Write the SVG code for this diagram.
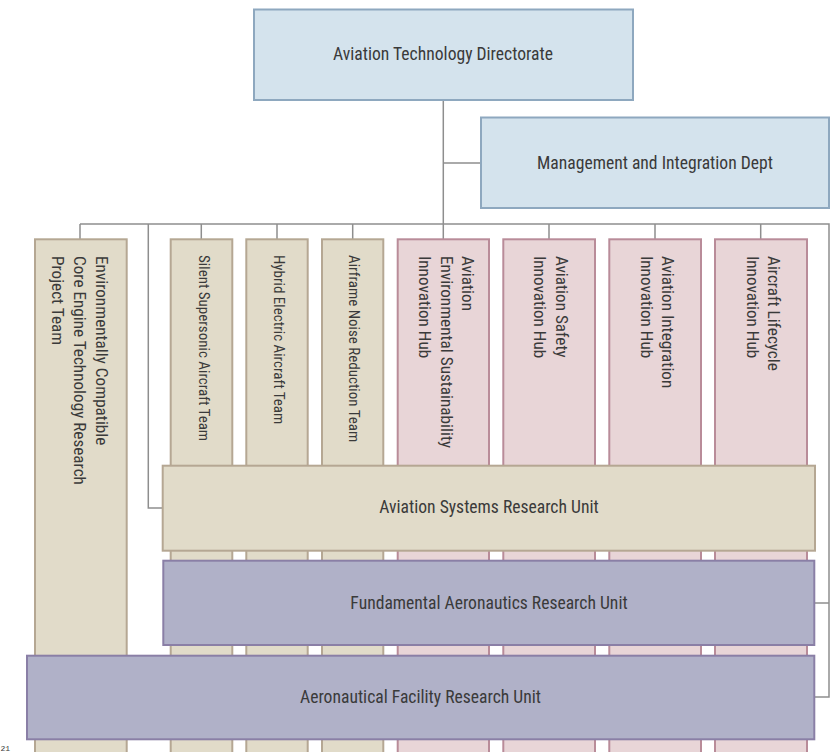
<svg xmlns="http://www.w3.org/2000/svg" width="839" height="752" viewBox="0 0 839 752">
<style>
text{font-family:"Liberation Sans Narrow","Roboto Condensed","Arial Narrow","Liberation Sans",sans-serif;fill:#3a3a3a;font-stretch:condensed}
.blue{fill:#d4e3ed;stroke:#8ea8bf;stroke-width:2}
.tan{fill:#e1dbc9;stroke:#b5a793;stroke-width:2}
.pink{fill:#e8d5d7;stroke:#b98c99;stroke-width:2}
.purple{fill:#b0b1c8;stroke:#8a7fa6;stroke-width:2}
.conn{fill:none;stroke:#8e8e8e;stroke-width:1.5}
.h{font-size:17.6px;text-anchor:middle}
.v{font-size:17.2px}
.vs{font-size:15px}
</style>
<rect width="839" height="752" fill="#ffffff"/>
<g id="connectors" class="conn">
<path d="M443.3 100V239"/>
<path d="M443.3 163H481"/>
<path d="M80 224H829V697H814"/>
<path d="M829 603H814"/>
<path d="M80 224V239M201.3 224V239M277 224V239M352.7 224V239M549 224V239M655 224V239M760.7 224V239"/>
<path d="M148.3 224V508H163"/>
</g>
<g id="n-atd">
<rect class="blue" x="254" y="9.5" width="379" height="90.5"/>
<text class="h" x="443" y="60">Aviation Technology Directorate</text>
</g>
<g id="n-mid">
<rect class="blue" x="481" y="117.5" width="348" height="90.5"/>
<text class="h" x="655" y="168.5">Management and Integration Dept</text>
</g>
<g id="n-eccet">
<rect class="tan" x="35" y="239.3" width="91.7" height="540"/>
<text class="v" x="95.5" y="256" transform="rotate(90 95.5 256)"><tspan x="95.5">Environmentally Compatible</tspan><tspan x="95.5" dy="21.6">Core Engine Technology Research</tspan><tspan x="95.5" dy="21.6">Project Team</tspan></text>
</g>
<g id="n-silent">
<rect class="tan" x="170.7" y="239.3" width="61.6" height="540"/>
<text class="vs" x="198.5" y="255" transform="rotate(90 198.5 255)">Silent Supersonic Aircraft Team</text>
</g>
<g id="n-hybrid">
<rect class="tan" x="246.3" y="239.3" width="61.4" height="540"/>
<text class="vs" x="274.2" y="255" transform="rotate(90 274.2 255)">Hybrid Electric Aircraft Team</text>
</g>
<g id="n-airframe">
<rect class="tan" x="322" y="239.3" width="61.3" height="540"/>
<text class="vs" x="349.2" y="255" transform="rotate(90 349.2 255)">Airframe Noise Reduction Team</text>
</g>
<g id="n-aes">
<rect class="pink" x="397.7" y="239.3" width="91.3" height="540"/>
<text class="v" x="462.3" y="256" transform="rotate(90 462.3 256)"><tspan x="462.3">Aviation</tspan><tspan x="462.3" dy="21.6">Environmental Sustainability</tspan><tspan x="462.3" dy="21.6">Innovation Hub</tspan></text>
</g>
<g id="n-safety">
<rect class="pink" x="503.3" y="239.3" width="91.7" height="540"/>
<text class="v" x="555.8" y="256" transform="rotate(90 555.8 256)"><tspan x="555.8">Aviation Safety</tspan><tspan x="555.8" dy="21.6">Innovation Hub</tspan></text>
</g>
<g id="n-integration">
<rect class="pink" x="609.3" y="239.3" width="91.7" height="540"/>
<text class="v" x="662.3" y="256" transform="rotate(90 662.3 256)"><tspan x="662.3">Aviation Integration</tspan><tspan x="662.3" dy="21.6">Innovation Hub</tspan></text>
</g>
<g id="n-lifecycle">
<rect class="pink" x="715" y="239.3" width="92" height="540"/>
<text class="v" x="768.3" y="256" transform="rotate(90 768.3 256)"><tspan x="768.3">Aircraft Lifecycle</tspan><tspan x="768.3" dy="21.6">Innovation Hub</tspan></text>
</g>
<g id="n-asru">
<rect class="tan" x="162.7" y="465.7" width="652.3" height="85"/>
<text class="h" x="489" y="513.3">Aviation Systems Research Unit</text>
</g>
<g id="n-faru">
<rect class="purple" x="163.3" y="560.7" width="651" height="84.3"/>
<text class="h" x="489" y="609">Fundamental Aeronautics Research Unit</text>
</g>
<g id="n-afru">
<rect class="purple" x="27" y="655.7" width="787.3" height="83.6"/>
<text class="h" x="420.5" y="702.7">Aeronautical Facility Research Unit</text>
</g>
<text x="0.5" y="751" style="font-family:'Liberation Mono',monospace;font-size:8px;font-stretch:normal">21</text>
</svg>
